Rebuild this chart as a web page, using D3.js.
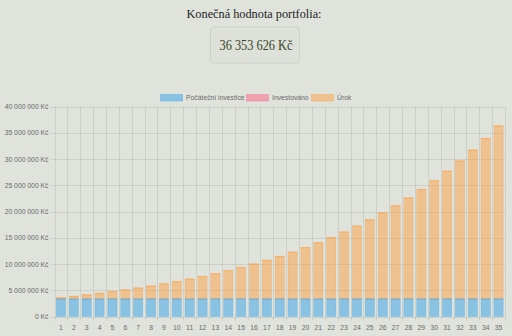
<!DOCTYPE html>
<html lang="cs">
<head>
<meta charset="utf-8">
<script src="https://cdn.jsdelivr.net/npm/d3@7"></script>
<style>
  html, body { margin: 0; padding: 0; background: #dfe3dc; }
  svg { display: block; }
</style>
</head>
<body>
<svg id="chart" width="512" height="336"></svg>
<script>
// Roky investice
const years = d3.range(1, 36).map(String);

// Počáteční investice (Kč) – konstantní jistina
const initialInvestment = [
  3405000, 3405000, 3405000, 3405000, 3405000, 3405000, 3405000,
  3405000, 3405000, 3405000, 3405000, 3405000, 3405000, 3405000,
  3405000, 3405000, 3405000, 3405000, 3405000, 3405000, 3405000,
  3405000, 3405000, 3405000, 3405000, 3405000, 3405000, 3405000,
  3405000, 3405000, 3405000, 3405000, 3405000, 3405000, 3405000
];

// Průběžně investováno (Kč)
const invested = [
  0, 0, 0, 0, 0, 0, 0, 0, 0, 0, 0, 0, 0, 0, 0, 0, 0, 0,
  0, 0, 0, 0, 0, 0, 0, 0, 0, 0, 0, 0, 0, 0, 0, 0, 0
];

// Úrok (Kč)
const interest = [
  238350, 493385, 766271, 1058260, 1370690, 1704986, 2062684,
  2445423, 2854953, 3293149, 3762021, 4263714, 4800522, 5374908,
  5989504, 6647118, 7350765, 8103668, 8909278, 9771274, 10693614,
  11680519, 12736505, 13866410, 15075409, 16369037, 17753220, 19234293,
  20819045, 22514728, 24329110, 26270498, 28347783, 30570478, 32948626
];

const yTicks = [0, 5000000, 10000000, 15000000, 20000000, 25000000, 30000000, 35000000, 40000000];

const seriesNames = ["Počáteční investice", "Investováno", "Úrok"];
const fills   = ["rgba(54,162,235,0.5)", "rgba(255,99,132,0.5)", "rgba(255,159,64,0.5)"];
const strokes = ["rgb(54,162,235)", "rgb(255,99,132)", "rgb(255,159,64)"];

const finalValue = initialInvestment[34] + invested[34] + interest[34];

const svg = d3.select("#chart");
const W = 512, H = 336;
const margin = { top: 106.5, right: 7, bottom: 19.5, left: 54.5 };

// Nadpis a výsledná hodnota
const fmtNum = v => d3.format(",")(Math.round(v)).replace(/,/g, " ");

svg.append("text")
  .attr("x", 254).attr("y", 18)
  .attr("text-anchor", "middle")
  .attr("font-family", "'Liberation Serif', 'DejaVu Serif', serif")
  .attr("font-size", 13.5)
  .attr("textLength", 135)
  .attr("lengthAdjust", "spacingAndGlyphs")
  .attr("fill", "#1e1e1e")
  .text("Konečná hodnota portfolia:");

svg.append("rect")
  .attr("x", 210.5).attr("y", 27)
  .attr("width", 89).attr("height", 36)
  .attr("rx", 4)
  .attr("fill", "#dde1d9")
  .attr("stroke", "#cdd1ca");

svg.append("text")
  .attr("x", 256).attr("y", 49.5)
  .attr("text-anchor", "middle")
  .attr("font-family", "'Liberation Serif', 'DejaVu Serif', serif")
  .attr("font-size", 14)
  .attr("textLength", 73)
  .attr("lengthAdjust", "spacingAndGlyphs")
  .attr("fill", "#3a4528")
  .text(fmtNum(finalValue) + " Kč");

// Škály
const x = d3.scaleBand().domain(years).range([margin.left, W - margin.right]);
const y = d3.scaleLinear().domain([0, 40000000]).range([H - margin.bottom, margin.top]);

const grid = svg.append("g").attr("stroke", "rgba(0,0,0,0.08)").attr("stroke-width", 1);

// Vodorovná mřížka
grid.selectAll("line.h").data(yTicks).join("line")
  .attr("x1", margin.left - 4).attr("x2", W - margin.right)
  .attr("y1", d => Math.round(y(d)) + 0.5).attr("y2", d => Math.round(y(d)) + 0.5);

// Svislá mřížka na hranicích kategorií
const xEdges = years.map(d => x(d)).concat([x(years[34]) + x.bandwidth()]);
grid.selectAll("line.v").data(xEdges).join("line")
  .attr("x1", d => Math.round(d) + 0.5).attr("x2", d => Math.round(d) + 0.5)
  .attr("y1", margin.top).attr("y2", H - margin.bottom + 4);

// Skládané sloupce
const rows = years.map((yr, i) => ({ year: yr, s0: initialInvestment[i], s1: invested[i], s2: interest[i] }));
const stack = d3.stack().keys(["s0", "s1", "s2"])(rows);

const barW = x.bandwidth() * 0.72;
stack.forEach((layer, li) => {
  const g = svg.append("g");
  const segs = layer.filter(d => d[1] > d[0]);
  g.selectAll("rect").data(segs).join("rect")
    .attr("x", d => x(d.data.year) + (x.bandwidth() - barW) / 2)
    .attr("width", barW)
    .attr("y", d => y(d[1]))
    .attr("height", d => y(d[0]) - y(d[1]))
    .attr("fill", fills[li])
    .attr("stroke", strokes[li])
    .attr("stroke-width", 0.7)
    .attr("stroke-opacity", 0.35);
  // horní okraj
  g.selectAll("line").data(segs).join("line")
    .attr("x1", d => x(d.data.year) + (x.bandwidth() - barW) / 2)
    .attr("x2", d => x(d.data.year) + (x.bandwidth() + barW) / 2)
    .attr("y1", d => y(d[1]) + 0.5).attr("y2", d => y(d[1]) + 0.5)
    .attr("stroke", strokes[li]).attr("stroke-opacity", 0.5);
});

// Osa Y
const yAxis = svg.append("g")
  .attr("transform", `translate(${margin.left - 6},0)`)
  .call(d3.axisLeft(y).tickValues(yTicks).tickSize(0).tickPadding(0)
    .tickFormat(d => fmtNum(d) + " Kč"));
yAxis.select(".domain").remove();
yAxis.selectAll("text")
  .attr("font-family", "'Liberation Sans', Arial, sans-serif")
  .attr("font-size", 6.8)
  .attr("fill", "#6a6a6a");

// Osa X
const xAxis = svg.append("g")
  .attr("transform", `translate(0,${H - margin.bottom + 6})`)
  .call(d3.axisBottom(x).tickSize(0).tickPadding(3));
xAxis.select(".domain").remove();
xAxis.selectAll("text")
  .attr("font-family", "'Liberation Sans', Arial, sans-serif")
  .attr("font-size", 6.8)
  .attr("fill", "#6a6a6a");

// Legenda
const legendX = [160.5, 246.5, 311.5];
const legend = svg.append("g");
seriesNames.forEach((name, i) => {
  legend.append("rect")
    .attr("x", legendX[i]).attr("y", 94.5)
    .attr("width", 22).attr("height", 6.5)
    .attr("fill", fills[i]).attr("stroke", strokes[i]).attr("stroke-width", 0.6)
    .attr("stroke-opacity", 0.6);
  legend.append("text")
    .attr("x", legendX[i] + 25.5).attr("y", 100.3)
    .attr("font-family", "'Liberation Sans', Arial, sans-serif")
    .attr("font-size", 6.8)
    .attr("fill", "#6a6a6a")
    .text(name);
});
</script>
</body>
</html>
